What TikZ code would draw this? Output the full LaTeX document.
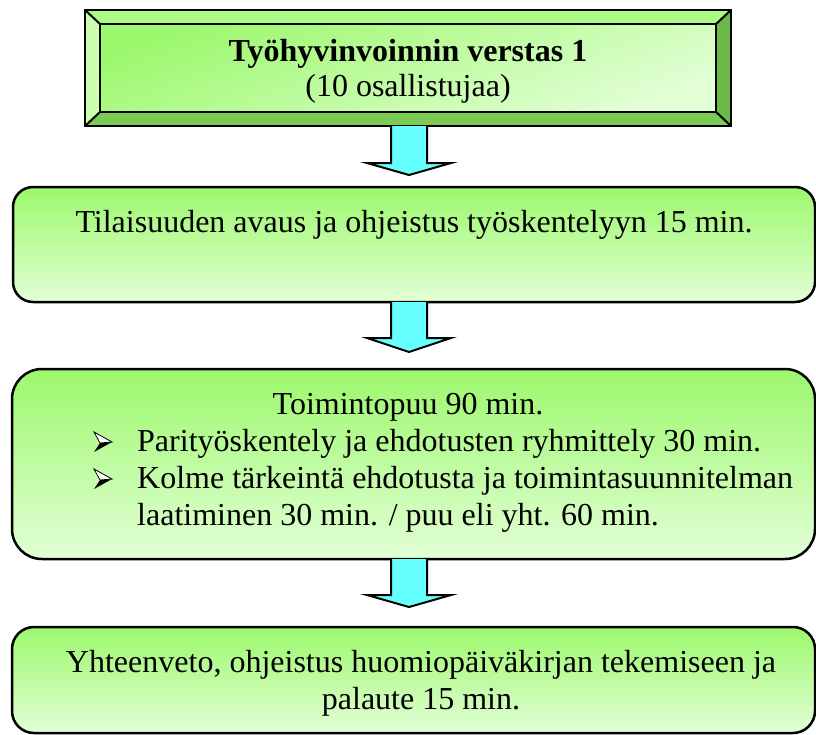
\documentclass[tikz,border=0pt]{standalone}
\usepackage{fontspec}
\setmainfont{Liberation Serif}
\usetikzlibrary{calc}
\definecolor{gtop}{HTML}{9CF86C}
\definecolor{gbot}{HTML}{E2FFD6}
\definecolor{bevtop}{HTML}{ABFB86}
\definecolor{bevleft}{HTML}{CCFFAE}
\definecolor{bevbot}{HTML}{7CCB55}
\definecolor{bevright}{HTML}{6CB848}
\definecolor{arrfill}{HTML}{66FFFF}
\begin{document}
\begin{tikzpicture}[x=1pt,y=-1pt,
  txt/.style={inner sep=0pt, anchor=base, font=\fontsize{32}{37}\selectfont},
  box/.style={draw=black, line width=2.5pt, top color=gtop, bottom color=gbot, inner sep=0pt},
  bev/.style={draw=black, line width=2pt},
  blk/.style={draw=black, line width=2pt, fill=arrfill, line join=miter}]
\useasboundingbox (0,0) rectangle (816,734);
% top bevel box
\coordinate (o1) at (85,10); \coordinate (o2) at (731,10);
\coordinate (o3) at (731,126); \coordinate (o4) at (85,126);
\coordinate (i1) at (100,24); \coordinate (i2) at (716,24);
\coordinate (i3) at (716,112); \coordinate (i4) at (100,112);
\fill[bevtop] (o1) -- (o2) -- (i2) -- (i1) -- cycle;
\fill[bevleft] (o1) -- (i1) -- (i4) -- (o4) -- cycle;
\fill[bevbot] (o4) -- (i4) -- (i3) -- (o3) -- cycle;
\fill[bevright] (o2) -- (o3) -- (i3) -- (i2) -- cycle;
\shade[top color=gtop, bottom color=gbot, shading angle=20] (i1) rectangle (i3);
\draw[bev] (o1) rectangle (o3);
\draw[bev] (i1) rectangle (i3);
\draw[bev] (o1) -- (i1) (o2) -- (i2) (o3) -- (i3) (o4) -- (i4);
\node[txt] (t1a) at (408,61) {\bfseries Työhyvinvoinnin verstas 1};
\node[txt] (t1b) at (408,96) {(10 osallistujaa)};
% boxes
\draw[box, rounded corners=20pt] (13,187) rectangle (815,302);
\node[txt] (t2) at (414,232) {Tilaisuuden avaus ja ohjeistus työskentelyyn 15 min.};
\draw[box, rounded corners=30pt] (12,369) rectangle (815,559);
\node[txt] (t3) at (408,414) {Toimintopuu 90 min.};
\node[txt, anchor=base west] (t3a) at (137,451) {Parityöskentely ja ehdotusten ryhmittely 30 min.};
\node[txt, anchor=base west] (t3b) at (137,488) {Kolme tärkeintä ehdotusta ja toimintasuunnitelman};
\node[txt, anchor=base west] (t3c) at (137,525) {laatiminen 30 min. / puu eli yht. 60 min.};
\foreach \yb in {451,488}{
  \fill[black] (100,\yb-8) -- (112,\yb-9) -- (94,\yb+1) -- cycle;
  \draw[black, fill=white, line width=0.8pt, line join=miter] (94,\yb-19) -- (112,\yb-9) -- (100,\yb-8) -- cycle;
}
\draw[box, rounded corners=22pt] (12,627) rectangle (815,733);
\node[txt] (t4a) at (421,672) {Yhteenveto, ohjeistus huomiopäiväkirjan tekemiseen ja};
\node[txt] (t4b) at (421,709) {palaute 15 min.};
% block arrows
\foreach \ya/\yh/\yt in {126/163/175, 302/338/352, 559/595/607}{
  \draw[blk] (391,\ya) -- (391,\yh) -- (367,\yh) -- (409,\yt) -- (451,\yh) -- (427,\yh) -- (427,\ya);
}
\end{tikzpicture}
\end{document}
